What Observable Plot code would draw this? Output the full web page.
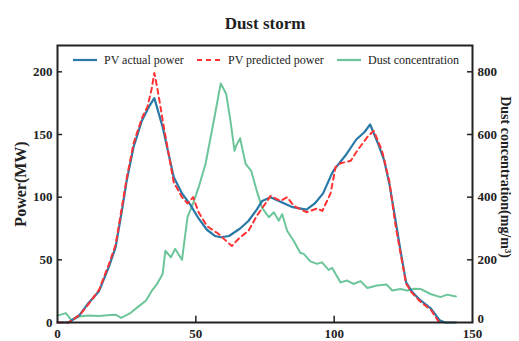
<!DOCTYPE html>
<html>
<head>
<meta charset="utf-8">
<script src="https://cdn.jsdelivr.net/npm/d3@7"></script>
<script src="https://cdn.jsdelivr.net/npm/@observablehq/plot@0.6"></script>
<style>
  html, body { margin: 0; padding: 0; background: #fff; }
  #wrap { position: relative; width: 519px; height: 341px; font-family: "Liberation Serif", "Times New Roman", serif; }
  #legend { position: absolute; left: 0; top: 52px; width: 519px; height: 16px; font-size: 12px; color: #222; }
  .item { position: absolute; top: 0; display: flex; align-items: center; white-space: nowrap; }
  .item svg { margin-right: 7px; }
</style>
</head>
<body>
<div id="wrap">
  <div id="chart"></div>
  <div id="legend"></div>
</div>
<script>
const title = "Dust storm";
const yLabelLeft = "Power(MW)";
const yLabelRight = "Dust concentration(mg/m³)";
const seriesNames = ["PV actual power", "PV predicted power", "Dust concentration"];
const seriesColors = ["#2878a8", "#ff3333", "#6cc69a"];
const xTicks = [0, 50, 100, 150];
const powerTicks = [0, 50, 100, 150, 200];
const dustTickLabels = [0, 200, 400, 600, 800];

// PV actual power (MW)
const actualT = [0, 4, 8, 11, 15, 18.5, 21, 23.5, 25, 27.5, 30.5, 33, 35, 38, 42, 45, 48, 51, 54, 57, 59, 62, 66, 69, 72, 74, 77, 80, 85, 90, 93, 96, 99, 100, 104, 108, 111, 113, 116, 118, 120, 122, 124, 126, 128, 131, 135, 138, 140, 144];
const actual  = [0, 0, 6, 15, 25, 44, 60, 92, 113, 140, 161, 172, 179, 156, 116, 103, 94, 83, 74, 69, 68, 69, 75, 81, 90, 97, 100, 97, 92, 90, 95, 103, 118, 122, 133, 146, 152, 158, 142, 130, 110, 84, 57, 32, 25, 18, 11, 2, 0, 0];

// PV predicted power (MW)
const predT = [0, 4, 8, 11, 15, 18.5, 21, 23.5, 25, 27.5, 30.5, 32.5, 34, 35, 36, 37, 38.5, 42, 45, 47, 49, 51, 54, 58, 61, 63, 66, 69, 72, 75.8, 77, 80.6, 83, 85.4, 90, 93.9, 95.7, 98.7, 100.5, 102.3, 106, 108.3, 112, 114.3, 117.3, 120, 122, 124, 126, 128, 131, 135, 138];
const pred  = [0, 0, 6, 14, 26, 46, 62, 95, 115, 143, 163, 172, 186, 199, 188, 175, 155, 112, 100, 95, 100, 88, 77, 71, 65, 61, 68, 73, 85, 97, 101, 97, 100, 93, 88, 91, 89, 103, 124, 127, 129, 137, 148, 153, 137, 112, 80, 55, 31, 24, 17, 10, 0];

// Dust concentration (mg/m³)
const dustT = [0, 3, 5, 8, 11, 15, 18, 21, 23, 26, 29, 32, 34, 36, 38, 39, 41, 42.5, 45, 47, 49, 51, 53.5, 56.5, 59, 61, 62.5, 64, 64.6, 66, 68, 70, 72, 74, 76.4, 78.2, 80, 81.2, 83, 85.4, 87.8, 89, 91.4, 93.8, 95.6, 98, 99.3, 102.3, 104.7, 107, 109.5, 112, 115.5, 119, 121, 124, 126.4, 129, 131.2, 134.8, 138.4, 140.8, 144];
const dust  = [22, 30, 8, 19, 22, 21, 23, 25, 15, 28, 49, 70, 100, 123, 155, 229, 208, 235, 200, 336, 380, 431, 506, 644, 763, 729, 644, 548, 565, 588, 506, 484, 421, 365, 336, 352, 325, 346, 293, 260, 222, 219, 195, 187, 192, 168, 174, 128, 134, 123, 132, 110, 118, 121, 102, 107, 102, 108, 107, 91, 81, 89, 83];

const ratio = dustTickLabels[dustTickLabels.length - 1] / powerTicks[powerTicks.length - 1];

const actualData = actualT.map((t, i) => ({t, v: actual[i]}));
const predData = predT.map((t, i) => ({t, v: pred[i]}));
const dustData = dustT.map((t, i) => ({t, v: dust[i] / ratio}));

const ink = "#222";
const chart = Plot.plot({
  width: 519,
  height: 341,
  marginLeft: 57,
  marginRight: 47,
  marginTop: 45,
  marginBottom: 19,
  style: {fontFamily: "'Liberation Serif', 'Times New Roman', serif", fontWeight: "bold", fontSize: "13px", color: ink, background: "#fff"},
  x: {domain: [0, 150]},
  y: {domain: [0, 221]},
  marks: [
    Plot.line(dustData, {x: "t", y: "v", stroke: seriesColors[2], strokeWidth: 2}),
    Plot.line(actualData, {x: "t", y: "v", stroke: seriesColors[0], strokeWidth: 2.2}),
    Plot.line(predData, {x: "t", y: "v", stroke: seriesColors[1], strokeWidth: 2, strokeDasharray: "5,4"}),
    Plot.axisX({ticks: xTicks, tickSize: 0, tickPadding: 6, label: null}),
    Plot.axisY({ticks: powerTicks, tickSize: 0, tickPadding: 5, label: null}),
    Plot.axisY({anchor: "right", ticks: powerTicks.slice(1), tickFormat: d => d * ratio, tickSize: 0, tickPadding: 5, label: null}),
    Plot.axisY({anchor: "right", ticks: powerTicks.slice(0, 1), tickFormat: d => d * ratio, tickSize: 0, tickPadding: 5, dy: -4, label: null}),
    Plot.ruleY(powerTicks.slice(1), {x1: 0, x2: 1.8, stroke: ink, strokeWidth: 1.5}),
    Plot.ruleY(powerTicks.slice(1), {x1: 148.2, x2: 150, stroke: ink, strokeWidth: 1.5}),
    Plot.ruleX(xTicks.slice(1, -1), {y1: 0, y2: 5, stroke: ink, strokeWidth: 1.5}),
    Plot.frame({stroke: ink, strokeWidth: 2}),
    Plot.text([yLabelLeft], {frameAnchor: "left", textAnchor: "middle", rotate: -90, dx: -37, fontSize: 16, fontWeight: "bold", fill: ink}),
    Plot.text([yLabelRight], {frameAnchor: "right", textAnchor: "middle", rotate: 90, dx: 33, dy: -7, fontSize: 14, fontWeight: "bold", fill: ink}),
    Plot.text([title], {frameAnchor: "top", dy: -29, fontSize: 17, fontWeight: "bold", fill: ink})
  ]
});
document.getElementById("chart").appendChild(chart);

// legend
const legend = document.getElementById("legend");
const legendLeft = [73, 197, 337];
seriesNames.forEach((name, i) => {
  const item = document.createElement("div");
  item.className = "item";
  item.style.left = legendLeft[i] + "px";
  const dash = i === 1 ? ' stroke-dasharray="5,4"' : "";
  item.innerHTML = `<svg width="24" height="16"><line x1="0" x2="24" y1="8" y2="8" stroke="${seriesColors[i]}" stroke-width="2.2"${dash}/></svg><span>${name}</span>`;
  legend.appendChild(item);
});
</script>
</body>
</html>
